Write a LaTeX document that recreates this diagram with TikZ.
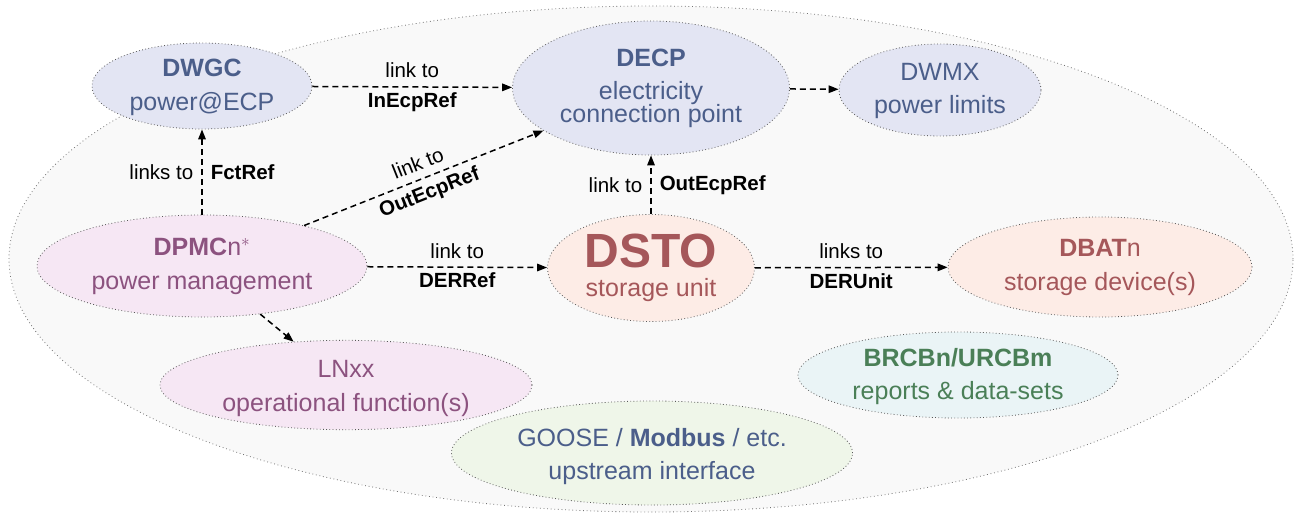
\documentclass[tikz,border=0pt]{standalone}
\usepackage{fontspec}
\setmainfont{Liberation Sans}
\usetikzlibrary{shapes.geometric,arrows.meta}
\definecolor{outerfill}{HTML}{F9F9F9}
\definecolor{bluefill}{HTML}{E3E5F3}
\definecolor{bluetext}{HTML}{4B5E8A}
\definecolor{pinkfill}{HTML}{F6E7F4}
\definecolor{pinktext}{HTML}{8C527F}
\definecolor{redfill}{HTML}{FDECE6}
\definecolor{redtext}{HTML}{A5575A}
\definecolor{cyanfill}{HTML}{EAF4F6}
\definecolor{greentext}{HTML}{4A7F57}
\definecolor{greenfill}{HTML}{EFF6E9}
\begin{document}
\begin{tikzpicture}[x=1pt,y=-1pt,
  blob/.style={ellipse, draw=black!65, line width=0.8pt, dash pattern=on 0.8pt off 2.4pt,
    inner sep=0pt, align=center, font=\fontsize{25}{26}\selectfont},
  conn/.style={draw=black, line width=1.5pt, dash pattern=on 6pt off 4pt,
    -{Triangle[length=10pt,width=7.5pt]}},
  elab/.style={font=\fontsize{20.5}{22}\selectfont, text=black},
  lab above/.style={elab, above, inner sep=8pt},
  lab below/.style={elab, below, inner sep=5pt},
  lab left/.style={elab, left, inner sep=8pt},
  lab right/.style={elab, right, inner sep=8pt},
]
\useasboundingbox (0,0) rectangle (1295,514);
\node[ellipse, fill=outerfill, draw=black!55, line width=0.8pt, dash pattern=on 0.8pt off 2.8pt,
  minimum width=1284pt, minimum height=506pt, inner sep=0pt] (frame) at (651,259) {};

\node[blob, fill=bluefill, text=bluetext, minimum width=220pt, minimum height=86pt]
  (dwgc) at (202,86) {\rule{0pt}{20pt}\textbf{DWGC}\\[8pt]power@ECP};
\node[blob, fill=bluefill, text=bluetext, minimum width=277pt, minimum height=134pt]
  (decp) at (651,88) {\textbf{DECP}\\[7pt]electricity\\[-3pt]connection point};
\node[blob, fill=bluefill, text=bluetext, minimum width=202pt, minimum height=92pt]
  (dwmx) at (940,90) {\rule{0pt}{20pt}DWMX\\[7pt]power limits};
\node[blob, fill=pinkfill, text=pinktext, minimum width=330pt, minimum height=102pt]
  (dpmc) at (202,266) {\textbf{DPMC}n$^{\ast}$\\[8pt]power management};
\node[blob, fill=pinkfill, text=pinktext, minimum width=372pt, minimum height=86pt]
  (lnxx) at (346,385) {\rule{0pt}{24pt}LNxx\\[8pt]operational function(s)};
\node[blob, fill=redfill, text=redtext, minimum width=207pt, minimum height=107pt]
  (dsto) at (651,268) {{\fontsize{48}{48}\selectfont\textbf{DSTO}}\\[3pt]storage unit};
\node[blob, fill=redfill, text=redtext, minimum width=304pt, minimum height=100pt]
  (dbat) at (1100,267) {\textbf{DBAT}n\\[8pt]storage device(s)};
\node[blob, fill=cyanfill, text=greentext, minimum width=320pt, minimum height=86pt]
  (brcb) at (958,375) {\rule{0pt}{22pt}\textbf{BRCBn/URCBm}\\[7pt]reports \& data-sets};
\node[blob, fill=greenfill, text=bluetext, minimum width=401pt, minimum height=104pt]
  (goose) at (652,453) {\rule{0pt}{26pt}GOOSE / \textbf{Modbus} / etc.\\[7pt]upstream interface};

\draw[conn] (dwgc) -- (decp)
  node[midway, lab above] {link to}
  node[midway, lab below] {\textbf{InEcpRef}};
\draw[conn] (decp) -- (dwmx);
\draw[conn] (dpmc) -- (dwgc)
  node[midway, lab left] {links to}
  node[midway, lab right] {\textbf{FctRef}};
\draw[conn] (dpmc) -- (decp)
  node[midway, sloped, lab above, inner sep=8pt] {link to}
  node[midway, sloped, lab below, inner sep=6pt] {\textbf{OutEcpRef}};
\draw[conn] (dsto) -- (decp)
  node[midway, lab left] {link to}
  node[midway, lab right] {\textbf{OutEcpRef}};
\draw[conn] (dpmc) -- (dsto)
  node[midway, lab above] {link to}
  node[midway, lab below] {\textbf{DERRef}};
\draw[conn] (dsto) -- (dbat)
  node[midway, lab above] {links to}
  node[midway, lab below] {\textbf{DERUnit}};
\draw[conn] (dpmc) -- (lnxx);
\end{tikzpicture}
\end{document}
